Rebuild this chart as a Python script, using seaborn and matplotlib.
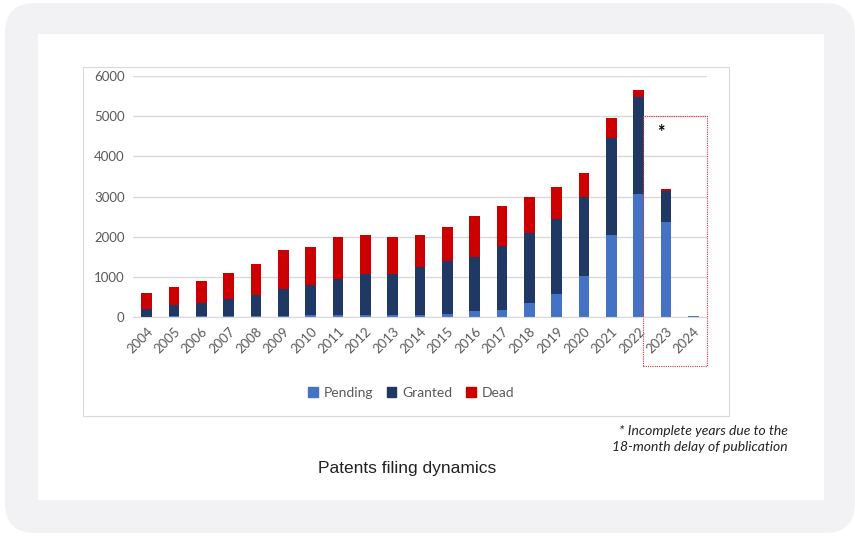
import matplotlib
matplotlib.use("Agg")
import matplotlib.pyplot as plt
from matplotlib.patches import FancyBboxPatch, Rectangle, Patch
import seaborn as sns
import pandas as pd

# Data
years = [str(y) for y in range(2004, 2025)]
pending = [10, 30, 30, 30, 30, 30, 60, 60, 60, 55, 55, 85, 150, 185, 355, 565, 1020, 2035, 3055, 2370, 20]
granted = [200, 270, 320, 415, 510, 655, 735, 890, 1015, 1020, 1195, 1300, 1340, 1585, 1730, 1885, 1970, 2425, 2415, 775, 0]
dead = [390, 445, 555, 660, 780, 985, 945, 1050, 960, 925, 785, 860, 1025, 995, 910, 780, 595, 505, 190, 35, 5]

c_pending = "#4472C4"
c_granted = "#203864"
c_dead = "#CC0000"
grey_txt = "#595959"

df = pd.DataFrame({"year": years, "pending": pending, "granted": granted, "dead": dead})
df["pg"] = df["pending"] + df["granted"]
df["total"] = df["pg"] + df["dead"]

sns.set_style("white")
plt.rcParams["font.family"] = ["Lato", "DejaVu Sans"]

W, H = 859, 537
fig = plt.figure(figsize=(W / 100, H / 100), dpi=100, facecolor="white")


def box(x0, y0, x1, y1):
    # pixel box (top-left origin) -> figure fractions
    return x0 / W, 1 - y1 / H, (x1 - x0) / W, (y1 - y0) / H


# card backgrounds
x, y, w, h = box(5, 3, 855, 533)
fig.add_artist(FancyBboxPatch((x, y), w, h, boxstyle="round,pad=0,rounding_size=0.035",
                              transform=fig.transFigure, facecolor="#f2f2f5", edgecolor="none",
                              mutation_aspect=W / H, zorder=-3))
x, y, w, h = box(38, 34, 824, 500)
fig.add_artist(Rectangle((x, y), w, h, transform=fig.transFigure, facecolor="white",
                         edgecolor="none", zorder=-2))
x, y, w, h = box(83, 67, 729, 416)
fig.add_artist(Rectangle((x, y), w, h, transform=fig.transFigure, facecolor="white",
                         edgecolor="#d9d9d9", linewidth=0.8, zorder=-1))

ax = fig.add_axes(box(133, 76, 707, 317))
ax.set_facecolor("none")

bw = 0.39
sns.barplot(data=df, x="year", y="total", color=c_dead, saturation=1, width=bw, linewidth=0, ax=ax)
sns.barplot(data=df, x="year", y="pg", color=c_granted, saturation=1, width=bw, linewidth=0, ax=ax)
sns.barplot(data=df, x="year", y="pending", color=c_pending, saturation=1, width=bw, linewidth=0, ax=ax)

ax.set_ylim(0, 6000)
ax.set_xlim(-0.5, len(years) - 0.5)
ax.set_yticks(range(0, 6001, 1000))
ax.yaxis.grid(True, color="#d9d9d9", linewidth=1)
ax.set_axisbelow(True)
for s in ["top", "right", "left"]:
    ax.spines[s].set_visible(False)
ax.spines["bottom"].set_color("#d9d9d9")
ax.set_xlabel("")
ax.set_ylabel("")
ax.tick_params(axis="both", length=0, labelsize=9.5, colors=grey_txt, pad=6)
plt.setp(ax.get_xticklabels(), rotation=45, ha="right", rotation_mode="anchor")

# incomplete-years box and asterisk
ax.add_patch(Rectangle((18.16, -1220), 20.5 - 18.16, 5000 + 1220, fill=False, edgecolor="#e83030",
                       linestyle=(0, (1, 1)), linewidth=0.8, clip_on=False))
ax.text(18.8, 4600, "*", ha="center", va="center", fontsize=13, fontweight="bold", color="black")

handles = [Patch(color=c_pending, label="Pending"),
           Patch(color=c_granted, label="Granted"),
           Patch(color=c_dead, label="Dead")]
fig.legend(handles=handles, loc="center", bbox_to_anchor=(411 / W, 1 - 393 / H), ncol=3,
           frameon=False, fontsize=10, labelcolor=grey_txt, handlelength=0.7, handleheight=0.7,
           handletextpad=0.4, columnspacing=1.0)

fig.text(788 / W, 1 - 439 / H, "* Incomplete years due to the\n18-month delay of publication",
         ha="right", va="center", fontsize=10, style="italic", color="#222222", linespacing=1.35)
fig.text(407 / W, 1 - 468 / H, "Patents filing dynamics", ha="center", va="center",
         fontsize=12.5, color="#222222", family="Liberation Sans")

fig.savefig("out.png", dpi=100, facecolor="white")
